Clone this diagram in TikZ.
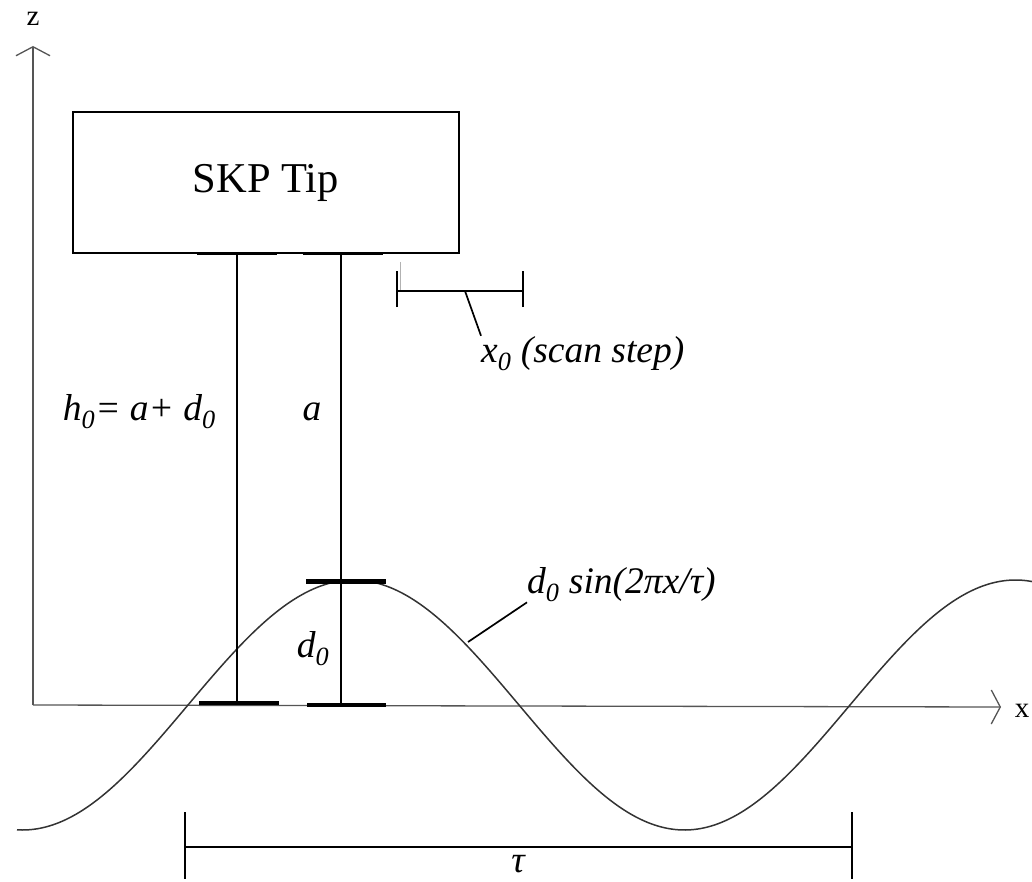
\documentclass[tikz,border=0pt]{standalone}
\usepackage{fontspec}
\setmainfont{Liberation Serif}
\usepackage{tikz}
\usetikzlibrary{arrows.meta,positioning}
\definecolor{axisgray}{HTML}{555555}
\definecolor{wavegray}{HTML}{333333}
\tikzset{
  axis/.style={
    draw=axisgray,line width=1.3pt,
    -{Straight Barb[length=9pt,width=34pt,line width=1.3pt]}
  },
  axislabel/.style={font=\fontsize{29}{33}\selectfont,inner sep=0pt},
  tipbox/.style={
    draw=black,line width=1.5pt,fill=white,
    minimum width=386pt,minimum height=141pt,
    font=\fontsize{42.5}{50}\selectfont
  },
  post/.style={draw=black,line width=2.7pt},
  bar/.style={draw=black,line width=4pt},
  thinbar/.style={draw=black,line width=1.7pt},
  wave/.style={draw=wavegray,line width=1.5pt},
  lbl/.style={font=\fontsize{37.5}{42}\selectfont\itshape,inner sep=0pt}
}

\begin{document}
\begin{tikzpicture}[x=1pt,y=-1pt]
\useasboundingbox (0,0) rectangle (1032,882);
% axes
\coordinate (origin) at (33,705);
\coordinate (xend) at (1001,707);
\coordinate (zend) at (33,46);
\draw[axis] (origin) -- (xend);
\draw[axis] (origin) -- (zend);
\node[axislabel] (xlab) at (1022,711) {x};
\node[axislabel] (zlab) at (33,19) {z};
% tip
\node[tipbox] (tip) at (266,182.5) {SKP Tip};
% surface
\draw[wave] plot[domain=17:1032,samples=200,smooth]
  (\x,{705-125*sin(0.543807*(\x-188))});
% posts
\coordinate (hTop) at (237,254);
\coordinate (hBot) at (237,703);
\coordinate (aTop) at (341,254);
\coordinate (aMid) at (341,581);
\coordinate (aBot) at (341,705);
\draw[post] (hTop) -- (hBot);
\draw[post] (aTop) -- (aBot);
\draw[bar,line width=3pt] ([xshift=-40pt]hTop) -- ([xshift=40pt]hTop);
\draw[bar,line width=3pt] ([xshift=-38pt]aTop) -- ([xshift=42pt]aTop);
\draw[bar,line width=5pt] ([xshift=-35pt]aMid) -- ([xshift=45pt]aMid);
\draw[bar] ([xshift=-38pt]hBot) -- ([xshift=42pt]hBot);
\draw[bar] ([xshift=-34pt]aBot) -- ([xshift=45pt]aBot);
\node[lbl,anchor=base east] (hlab) at (216,420) {h\textsubscript{0}= a+ d\textsubscript{0}};
\node[lbl,anchor=base] (alab) at (312,420) {a};
\node[lbl,anchor=base] (dlab) at (313,657) {d\textsubscript{0}};
% scan step
\coordinate (sL) at (397,291);
\coordinate (sR) at (523,291);
\draw[thinbar] (sL) -- (sR);
\draw[thinbar] ([yshift=-16pt]sL) -- ([yshift=20pt]sL);
\draw[thinbar] ([yshift=-16pt]sR) -- ([yshift=20pt]sR);
\draw[draw=black!30,line width=1pt] (400,262) -- (400,290);
\node[lbl,anchor=base west] (xlab0) at (481,362) {x\textsubscript{0} (scan step)};
\draw[thinbar] (465,291) -- (xlab0.north west);
% wave label
\node[lbl,anchor=base west] (wlab) at (527,593) {d\textsubscript{0} sin(2πx/τ)};
\coordinate (wfoot) at (468,642);
\draw[thinbar] (wfoot) -- (wlab.south west);
% period
\coordinate (pL) at (185,847);
\coordinate (pR) at (852,847);
\draw[post] (pL) -- (pR);
\draw[post] ([yshift=35pt]pL) -- ([yshift=-32pt]pL);
\draw[post] ([yshift=35pt]pR) -- ([yshift=-32pt]pR);
\node[lbl] (tlab) at (518,864) {τ};
\end{tikzpicture}
\end{document}
